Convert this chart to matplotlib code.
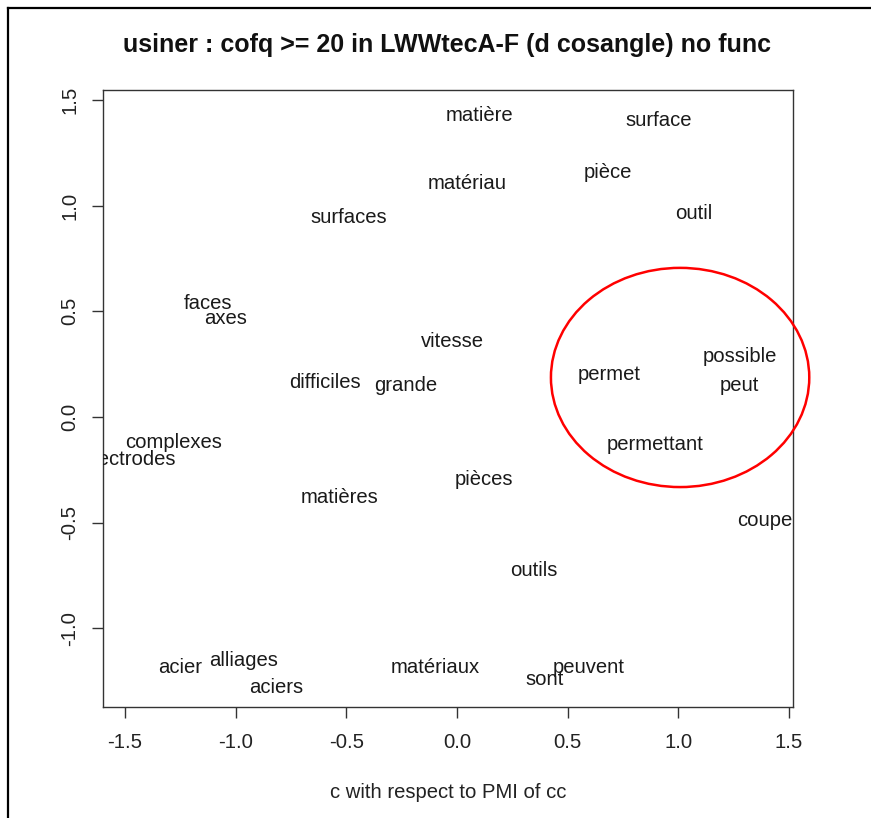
import matplotlib
matplotlib.use('Agg')
import matplotlib.pyplot as plt
from matplotlib.patches import Ellipse
from matplotlib.lines import Line2D

plt.rcParams['font.family'] = ['Liberation Sans', 'DejaVu Sans']

# word coordinates
words = ['matière', 'surface', 'pièce', 'matériau', 'outil', 'surfaces',
         'faces', 'axes', 'vitesse', 'permet', 'possible', 'peut',
         'difficiles', 'grande', 'complexes', 'électrodes', 'permettant',
         'pièces', 'matières', 'coupe', 'outils', 'acier', 'alliages',
         'aciers', 'matériaux', 'sont', 'peuvent']
xs = [0.104, 0.913, 0.682, 0.045, 1.071, -0.488,
      -1.125, -1.044, -0.020, 0.687, 1.279, 1.274,
      -0.596, -0.230, -1.279, -1.480, 0.893,
      0.120, -0.529, 1.389, 0.348, -1.252, -0.965,
      -0.816, -0.099, 0.395, 0.596]
ys = [1.424, 1.401, 1.155, 1.107, 0.965, 0.946,
      0.535, 0.468, 0.355, 0.203, 0.284, 0.147,
      0.161, 0.151, -0.123, -0.199, -0.132,
      -0.298, -0.379, -0.492, -0.724, -1.183, -1.150,
      -1.278, -1.183, -1.240, -1.183]

XTICKS = [-1.5, -1.0, -0.5, 0.0, 0.5, 1.0, 1.5]
YTICKS = [-1.0, -0.5, 0.0, 0.5, 1.0, 1.5]
FS = 14.6

fig = plt.figure(figsize=(8.71, 8.18), dpi=100)
ax = fig.add_axes([103 / 871, 1 - 707 / 818, 690 / 871, 617 / 818])

for w, x, y in zip(words, xs, ys):
    ax.text(x, y, w, ha='center', va='center', fontsize=FS, color='#1a1a1a',
            clip_on=True)

# highlight circle
ax.add_patch(Ellipse((1.008, 0.187), width=1.167, height=1.037, fill=False,
                     edgecolor='#ff0000', lw=1.8, clip_on=False, zorder=4))

ax.set_xticks(XTICKS)
ax.set_xticklabels([f'{t:.1f}' for t in XTICKS])
ax.set_yticks(YTICKS)
ax.set_yticklabels([f'{t:.1f}' for t in YTICKS], rotation=90, va='center')
ax.set_xlim(-1.599, 1.518)
ax.set_ylim(-1.372, 1.547)
ax.tick_params(axis='both', labelsize=FS, length=8, width=1.0,
               color='#333333', labelcolor='#222222')
ax.tick_params(axis='x', pad=11)
ax.tick_params(axis='y', pad=9)
for s in ax.spines.values():
    s.set_color('#333333')
    s.set_linewidth(1.0)

fig.text(447 / 871, 1 - 45 / 818,
         'usiner : cofq >= 20 in LWWtecA-F (d cosangle) no func',
         ha='center', va='center', fontsize=18.0, fontweight='bold',
         color='#111111')
fig.text(448 / 871, 1 - 793 / 818, 'c with respect to PMI of cc',
         ha='center', va='center', fontsize=FS, color='#222222')

# screenshot frame (left and top edges)
fig.add_artist(Line2D([8 / 871, 8 / 871], [0, 1 - 8 / 818], color='black', lw=1.6))
fig.add_artist(Line2D([8 / 871, 1], [1 - 8 / 818, 1 - 8 / 818], color='black', lw=1.6))

plt.savefig('out.png', dpi=100, facecolor='white')
plt.close()
